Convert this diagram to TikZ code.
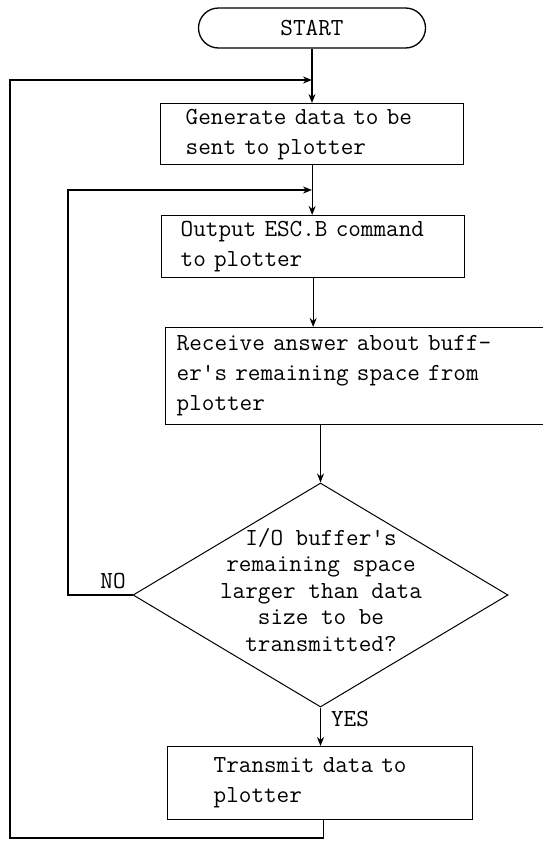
\documentclass[tikz,border=0pt]{standalone}
\usepackage{fontspec}
\usetikzlibrary{shapes.geometric,arrows.meta}
\begin{document}
\begin{tikzpicture}[x=1pt,y=-1pt,
  every node/.style={font=\ttfamily\fontsize{24.5}{30}\selectfont, text=black},
  plain/.style={draw=black, line width=1.3pt},
  flow/.style={plain, -{Stealth[length=9pt,width=7pt]}},
  box/.style={draw=black, line width=1.3pt, rectangle, align=left,
    inner ysep=0pt, anchor=north west},
  term/.style={draw=black, line width=1.3pt, rectangle, rounded corners=20pt,
    minimum width=227pt, minimum height=40pt},
  decision/.style={draw=black, line width=1pt, diamond, inner sep=0pt,
    minimum width=375pt, minimum height=224pt},
  question/.style={align=center, font=\ttfamily\fontsize{24.5}{26.5}\selectfont}
]
\useasboundingbox (0,0) rectangle (543,841);

% blocks
\node[term] (start) at (312,28) {START};
\node[box, inner xsep=25pt, text width=253pt, minimum height=61pt] (gen)
  at (160,103) {Generate data to be\\sent to plotter};
\node[box, inner xsep=19pt, text width=265pt, minimum height=62pt] (out)
  at (161,215) {Output ESC.B command\\to plotter};
\node[box, inner xsep=11pt, text width=361pt, minimum height=97pt] (recv)
  at (165,327) {Receive answer about buff-\\er's remaining space from\\plotter};
\node[decision] (dec) at (320.5,595) {};
\node[question] (q) at (321,590)
  {I/O buffer's\\remaining space\\larger than data\\size to be\\transmitted?};
\node[box, inner xsep=46pt, text width=213pt, minimum height=73pt] (trans)
  at (167,746) {Transmit data to\\plotter};

% branch labels
\node (no) at (113,581) {NO};
\node (yes) at (350,719) {YES};

% loop corners
\coordinate (l1a) at (10,838);
\coordinate (l1b) at (10,80);
\coordinate (l2) at (68,190);
\coordinate (tb) at ([xshift=3.5pt]trans.south);

% main flow
\draw[flow] (start.south) -- (start.south |- gen.north);
\draw[flow] (gen.south) -- (gen.south |- out.north);
\draw[flow] (out.south) -- (out.south |- recv.north);
\draw[flow] (dec.north |- recv.south) -- (dec.north);
\draw[flow] (dec.south) -- (dec.south |- trans.north);

% loops back
\draw[flow] (dec.west) -| (l2) -- (l2 -| start.south);
\draw[flow] (tb) -- (tb |- l1a) -- (l1a) -- (l1b) -- (l1b -| start.south);
\end{tikzpicture}
\end{document}
